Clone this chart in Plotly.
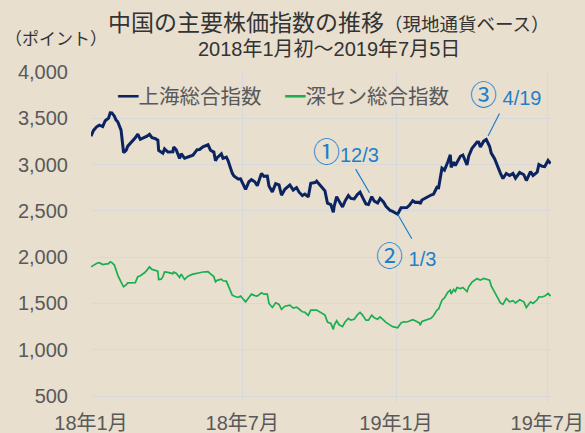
import plotly.graph_objects as go

# ---------------- data ----------------
dates = [
    "2018-01-01", "2018-01-04", "2018-01-08", "2018-01-11", "2018-01-15", "2018-01-18",
    "2018-01-22", "2018-01-24", "2018-01-26", "2018-01-29", "2018-01-31",
    "2018-02-02", "2018-02-06", "2018-02-09", "2018-02-12", "2018-02-14", "2018-02-23", "2018-02-26",
    "2018-03-01", "2018-03-06", "2018-03-09", "2018-03-12", "2018-03-15", "2018-03-19",
    "2018-03-22", "2018-03-23", "2018-03-26", "2018-03-28", "2018-03-30",
    "2018-04-03", "2018-04-09", "2018-04-10", "2018-04-13", "2018-04-17", "2018-04-19", "2018-04-23", "2018-04-27",
    "2018-05-03", "2018-05-08", "2018-05-11", "2018-05-15", "2018-05-21", "2018-05-24", "2018-05-28", "2018-05-30",
    "2018-06-01", "2018-06-06", "2018-06-08", "2018-06-12", "2018-06-14", "2018-06-19", "2018-06-21", "2018-06-26", "2018-06-29",
    "2018-07-05", "2018-07-09", "2018-07-12", "2018-07-16", "2018-07-19", "2018-07-24", "2018-07-27", "2018-07-31",
    "2018-08-02", "2018-08-06", "2018-08-10", "2018-08-14", "2018-08-17", "2018-08-21", "2018-08-27", "2018-08-31",
    "2018-09-04", "2018-09-07", "2018-09-11", "2018-09-14", "2018-09-18", "2018-09-21", "2018-09-26", "2018-09-28",
    "2018-10-08", "2018-10-11", "2018-10-15", "2018-10-18", "2018-10-19", "2018-10-22", "2018-10-25", "2018-10-29",
    "2018-11-01", "2018-11-05", "2018-11-08", "2018-11-12", "2018-11-16", "2018-11-19", "2018-11-22", "2018-11-26", "2018-11-29",
    "2018-12-03", "2018-12-06", "2018-12-10", "2018-12-13", "2018-12-17", "2018-12-20", "2018-12-25", "2018-12-28",
    "2019-01-03", "2019-01-07", "2019-01-10", "2019-01-14", "2019-01-17", "2019-01-21", "2019-01-24", "2019-01-29", "2019-01-30",
    "2019-02-01", "2019-02-12", "2019-02-15", "2019-02-19", "2019-02-21", "2019-02-25", "2019-02-28",
    "2019-03-04", "2019-03-07", "2019-03-08", "2019-03-11", "2019-03-13", "2019-03-15", "2019-03-19",
    "2019-03-22", "2019-03-27", "2019-03-29",
    "2019-04-02", "2019-04-08", "2019-04-10", "2019-04-12", "2019-04-16", "2019-04-19", "2019-04-23", "2019-04-25", "2019-04-29",
    "2019-05-06", "2019-05-09", "2019-05-13", "2019-05-17", "2019-05-21", "2019-05-24", "2019-05-29",
    "2019-06-03", "2019-06-06", "2019-06-11", "2019-06-14", "2019-06-19", "2019-06-21", "2019-06-25", "2019-06-28",
    "2019-07-02", "2019-07-05",
]

shanghai = [
    3307, 3369, 3410, 3425, 3410, 3474, 3501, 3559, 3558, 3523, 3481,
    3462, 3371, 3129, 3154, 3199, 3289, 3329,
    3273, 3290, 3307, 3326, 3291, 3280, 3263, 3152, 3133, 3123, 3169,
    3136, 3139, 3190, 3159, 3067, 3117, 3068, 3082,
    3101, 3161, 3163, 3192, 3214, 3155, 3135, 3041,
    3075, 3115, 3067, 3080, 3044, 2908, 2876, 2844, 2847,
    2733, 2815, 2837, 2814, 2772, 2905, 2873, 2876,
    2768, 2705, 2795, 2781, 2669, 2733, 2780, 2725,
    2751, 2702, 2665, 2682, 2651, 2797, 2806, 2821,
    2716, 2583, 2568, 2486, 2550, 2654, 2603, 2542,
    2606, 2665, 2635, 2630, 2679, 2703, 2645, 2575, 2568,
    2654, 2605, 2585, 2634, 2597, 2549, 2504, 2494,
    2464, 2533, 2535, 2536, 2560, 2610, 2592, 2594, 2575,
    2618, 2671, 2682, 2755, 2751, 2961, 2941,
    3027, 3106, 2969, 3027, 2990, 3022, 3090, 3104, 2995, 3090,
    3176, 3244, 3242, 3189, 3253, 3271, 3198, 3124, 3063,
    2906, 2850, 2904, 2882, 2905, 2853, 2914,
    2890, 2828, 2925, 2882, 2918, 3001, 2982, 2979,
    3044, 3011,
]

shenzhen = [
    1895, 1915, 1935, 1940, 1920, 1925, 1930, 1950, 1940, 1915, 1860,
    1806, 1730, 1680, 1700, 1722, 1725, 1790,
    1800, 1831, 1860, 1895, 1868, 1860, 1850, 1759, 1762, 1790, 1841,
    1835, 1822, 1838, 1826, 1781, 1817, 1759, 1795,
    1817, 1831, 1832, 1840, 1845, 1820, 1790, 1734,
    1750, 1762, 1745, 1742, 1698, 1590, 1580, 1565, 1580,
    1518, 1565, 1601, 1585, 1580, 1615, 1600, 1600,
    1500, 1457, 1507, 1490, 1436, 1470, 1482, 1450,
    1460, 1440, 1410, 1405, 1371, 1428, 1432, 1428,
    1374, 1300, 1285, 1220, 1265, 1313, 1270, 1250,
    1300, 1338, 1320, 1330, 1380, 1403, 1375, 1320, 1320,
    1374, 1345, 1330, 1355, 1320, 1295, 1266, 1250,
    1237, 1290, 1302, 1300, 1310, 1325, 1313, 1290, 1266,
    1305, 1340, 1370, 1428, 1440, 1536, 1560,
    1620, 1644, 1601, 1650, 1630, 1672, 1660, 1673, 1629, 1680,
    1730, 1770, 1760, 1752, 1770, 1765, 1752, 1690, 1626,
    1507, 1490, 1554, 1518, 1530, 1505, 1540,
    1518, 1457, 1518, 1500, 1540, 1572, 1570, 1580,
    1608, 1580,
]

series_names = ["上海総合指数", "深セン総合指数"]

x_tick_vals = ["2018-01-01", "2018-07-01", "2019-01-01", "2019-07-01"]
x_tick_text = ["18年1月", "18年7月", "19年1月", "19年7月"]
y_tick_vals = [500, 1000, 1500, 2000, 2500, 3000, 3500, 4000]

callout_dates = ["2018-12-03", "2019-01-03", "2019-04-19"]
callout_marks = ["①", "②", "③"]
callout_labels = ["12/3", " 1/3", " 4/19"]

# ---------------- styles ----------------
BG = "#e8dfcf"
NAVY = "#0b2461"
GREEN = "#1aae50"
BLUE = "#1e7fcb"
GRID = "#d8d9dc"
TICK = "#595959"
FONT = "Liberation Sans, Noto Sans CJK JP, sans-serif"
CJK = "Noto Sans CJK JP, sans-serif"

W, H = 585, 433
ML, MR, MT, MB = 91, 34, 72, 30
PW, PH = W - ML - MR, H - MT - MB


def px_x(p):
    return (p - ML) / PW


def px_y(p):
    return (H - MB - p) / PH


fig = go.Figure()
fig.add_trace(go.Scatter(x=dates, y=shenzhen, mode="lines", name=series_names[1],
                         line=dict(color=GREEN, width=1.7), showlegend=False))
fig.add_trace(go.Scatter(x=dates, y=shanghai, mode="lines", name=series_names[0],
                         line=dict(color=NAVY, width=3), showlegend=False))

annotations = []
# title
annotations.append(dict(
    text="中国の主要株価指数の推移<span style='font-size:18.5px'>（現地通貨ベース）</span>",
    x=px_x(329), y=px_y(23), xref="paper", yref="paper", xanchor="center", yanchor="middle",
    showarrow=False, font=dict(family=FONT, size=23, color="#333333")))
annotations.append(dict(
    text="2018年1月初～2019年7月5日",
    x=px_x(329), y=px_y(49), xref="paper", yref="paper", xanchor="center", yanchor="middle",
    showarrow=False, font=dict(family=FONT, size=20, color="#333333")))
# unit
annotations.append(dict(
    text="（ポイント）", x=px_x(3), y=px_y(37), xref="paper", yref="paper",
    xanchor="left", yanchor="middle", showarrow=False,
    font=dict(family=CJK, size=17, color="#333333")))
# legend
annotations.append(dict(
    text=f"<span style='color:{NAVY}'>━</span>{series_names[0]}", x=px_x(116), y=px_y(95),
    xref="paper", yref="paper", xanchor="left", yanchor="middle", showarrow=False,
    font=dict(family=CJK, size=20.5, color=TICK)))
annotations.append(dict(
    text=f"<span style='color:{GREEN}'>━</span>{series_names[1]}", x=px_x(283), y=px_y(95),
    xref="paper", yref="paper", xanchor="left", yanchor="middle", showarrow=False,
    font=dict(family=CJK, size=20.5, color=TICK)))

# callouts
text_shift = [(-26, 44), (8, -43), (19, 44)]
arrow_off = [(-17, -29, 4.5), (15, 26, 0), (14, -27.5, 4)]
for d, mk, lab, (xs, ys), (ax, ay, so) in zip(callout_dates, callout_marks, callout_labels,
                                               text_shift, arrow_off):
    v = shanghai[dates.index(d)]
    txt = f"<span style='font-size:27px'>{mk}</span>{lab}"
    annotations.append(dict(x=d, y=v, xref="x", yref="y", text=txt, showarrow=False,
                            xshift=xs, yshift=ys, xanchor="center", yanchor="middle",
                            font=dict(family=FONT, size=20, color=BLUE)))
    annotations.append(dict(x=d, y=v, xref="x", yref="y", text="", showarrow=True,
                            arrowhead=0, arrowwidth=1.2, arrowcolor=BLUE,
                            ax=ax, ay=ay, standoff=so))

fig.update_layout(
    width=W, height=H, autosize=False,
    margin=dict(l=ML, r=MR, t=MT, b=MB, pad=0, autoexpand=False),
    paper_bgcolor=BG, plot_bgcolor=BG,
    font=dict(family=FONT, size=20, color=TICK),
    annotations=annotations,
    showlegend=False,
    xaxis=dict(
        type="date", range=["2018-01-01", "2019-07-05 12:00"], automargin=False,
        tickmode="array", tickvals=x_tick_vals, ticktext=x_tick_text,
        showgrid=True, gridcolor=GRID, gridwidth=1, zeroline=False, showline=False,
        ticks="", ticklabelstandoff=6, tickfont=dict(size=20, color=TICK),
    ),
    yaxis=dict(
        range=[425, 4000], tickmode="array", tickvals=y_tick_vals, automargin=False,
        tickformat=",d", showgrid=True, gridcolor=GRID, gridwidth=1,
        zeroline=False, showline=False, ticks="", ticklabelstandoff=22,
        tickfont=dict(size=20, color=TICK),
    ),
)

fig.write_html("out.html", include_plotlyjs=True,
               config={"displayModeBar": False},
               post_script="document.body.style.margin='0';document.body.style.overflow='hidden';")
